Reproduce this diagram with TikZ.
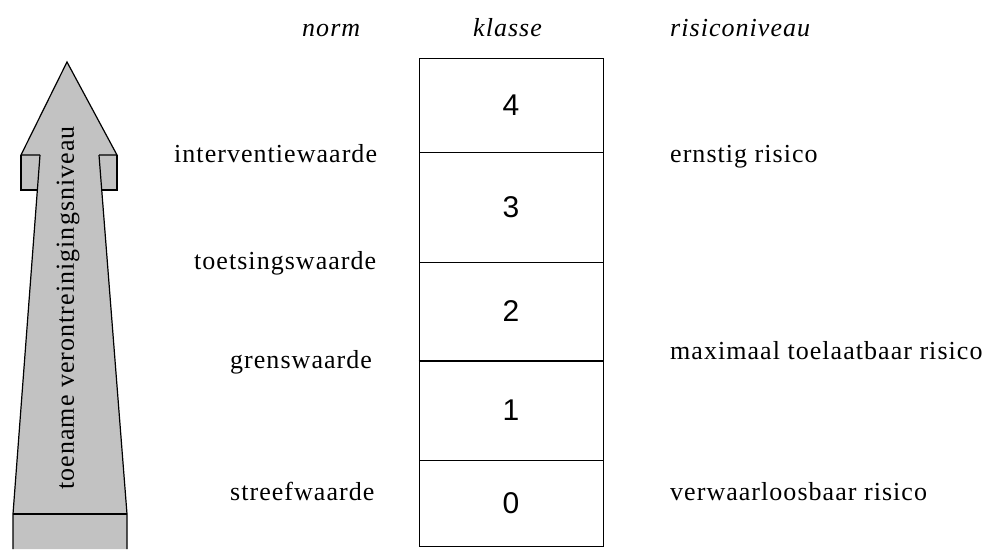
\documentclass[tikz,border=0pt]{standalone}
\usepackage{fontspec}
\setmainfont{Liberation Serif}[LetterSpace=4]
\newfontfamily\digitfont{Liberation Sans}
\begin{document}
\begin{tikzpicture}[x=1pt,y=-1pt,
  lbl/.style={anchor=base west,inner sep=0pt,font=\fontsize{26}{30}\selectfont},
  head/.style={lbl,font=\fontsize{26}{30}\selectfont\itshape},
  cell/.style={draw,line width=1pt,minimum width=184pt,inner sep=0pt,
    font=\digitfont\fontsize{30}{34}\selectfont},
  outline/.style={line width=1.2pt,line join=miter}]
\useasboundingbox (0,0) rectangle (987,549);

% rising arrow
\fill[black!24] (67,62) -- (117,155) -- (117,190) -- (102,190) -- (127,514)
  -- (127,549) -- (13,549) -- (13,514) -- (37,190) -- (21,190) -- (21,155) -- cycle;
\draw[outline] (40,155) -- (21,155) -- (67,62) -- (117,155) -- (99,155);
\draw[outline] (21,155) -- (21,190) -- (37,190);
\draw[outline] (117,155) -- (117,190) -- (102,190);
\draw[outline] (40,155) -- (13,514) -- (13,549);
\draw[outline] (99,155) -- (127,514) -- (127,549);
\draw[outline] (13,514) -- (127,514);
\node[rotate=90,inner sep=0pt,font=\fontsize{26}{30}\selectfont] (arrowtext) at (68,308)
  {toename verontreinigingsniveau};

% column headings
\node[head] (hnorm) at (302,36) {norm};
\node[head] (hklasse) at (473,36) {klasse};
\node[head] (hrisico) at (670,36) {risiconiveau};

% class column
\node[cell,minimum height=94pt]  (c4) at (511,105) {4};
\node[cell,minimum height=110pt] (c3) at (511,207) {3};
\node[cell,minimum height=98pt]  (c2) at (511,311) {2};
\node[cell,minimum height=100pt] (c1) at (511,410) {1};
\node[cell,minimum height=86pt]  (c0) at (511,503) {0};
\draw[line width=2pt] (c2.south west) -- (c2.south east);

% norm values
\node[lbl] (nint) at (174,162) {interventiewaarde};
\node[lbl] (ntoets) at (194,269) {toetsingswaarde};
\node[lbl] (ngrens) at (230,368) {grenswaarde};
\node[lbl] (nstreef) at (230,500) {streefwaarde};

% risk levels
\node[lbl] (rern) at (670,162) {ernstig risico};
\node[lbl] (rmax) at (670,359) {maximaal toelaatbaar risico};
\node[lbl] (rverw) at (670,500) {verwaarloosbaar risico};
\end{tikzpicture}
\end{document}
